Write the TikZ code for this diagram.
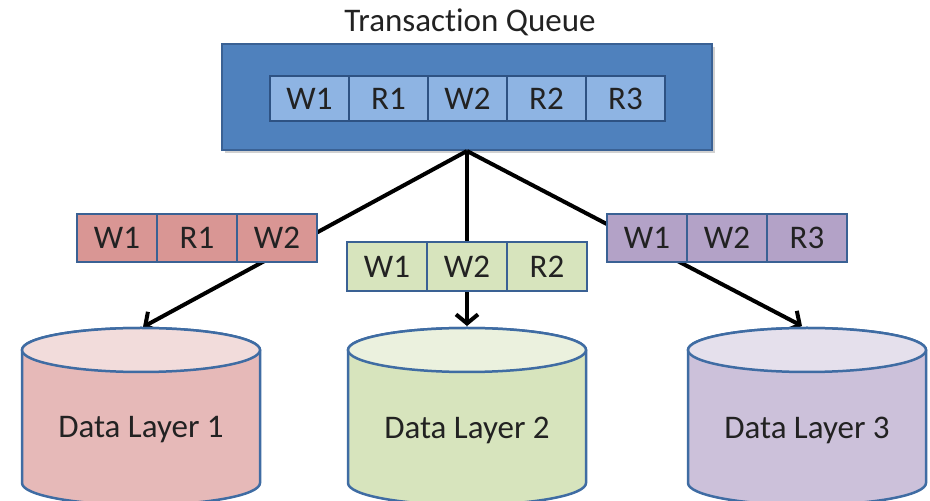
\documentclass[tikz,border=0pt]{standalone}
\usepackage{fontspec}
\setmainfont{Carlito}[Ligatures=NoCommon]
\usetikzlibrary{arrows.meta}
\definecolor{qfill}{HTML}{4F81BD}
\definecolor{qborder}{HTML}{3A6194}
\definecolor{cellblue}{HTML}{8EB4E3}
\definecolor{cellborder}{HTML}{2E5283}
\definecolor{redq}{HTML}{D99694}
\definecolor{greenq}{HTML}{D7E4BD}
\definecolor{purpleq}{HTML}{B3A2C7}
\definecolor{redside}{HTML}{E6B9B8}
\definecolor{redtop}{HTML}{F2DCDB}
\definecolor{greenside}{HTML}{D7E4BD}
\definecolor{greentop}{HTML}{EBF1DE}
\definecolor{purpleside}{HTML}{CCC1DA}
\definecolor{purpletop}{HTML}{E5E0EC}
\definecolor{cylborder}{HTML}{3F6CA3}
\definecolor{txt}{HTML}{222222}
\begin{document}
\begin{tikzpicture}[x=1pt,y=1pt,
  every node/.style={text=txt, font=\fontsize{33}{38}\selectfont},
  qcell/.style={draw=cellborder, line width=2pt, fill=cellblue, minimum width=79pt, minimum height=45pt, inner sep=0pt},
  scell/.style={draw=qborder, line width=2pt, minimum width=80pt, minimum height=48pt, inner sep=0pt},
  conn/.style={line width=4pt, -{Straight Barb[length=9pt,width=22pt,line width=4pt]}},
  cylline/.style={draw=cylborder, line width=2.5pt}
]
\useasboundingbox (0,0) rectangle (930,501);
\clip (0,0) rectangle (930,501);
\fill[white] (0,0) rectangle (930,501);

% title
\node (title) at (470,479) {Transaction Queue};

% big queue with faint shadow
\fill[black!18] (225,348) rectangle (715,454);
\node[draw=qborder, line width=2pt, fill=qfill, minimum width=490pt, minimum height=106pt, inner sep=0pt] (q) at (467,404) {};
\node[qcell] (qw1) at (309.5,402.5) {W1};
\node[qcell] (qr1) at (388.5,402.5) {R1};
\node[qcell] (qw2) at (467.5,402.5) {W2};
\node[qcell] (qr2) at (546.5,402.5) {R2};
\node[qcell] (qr3) at (625.5,402.5) {R3};

% arrow targets
\coordinate (t1) at (143,174);
\coordinate (t2) at (467,175);
\coordinate (t3) at (802,175);
\draw[conn] (q.south) -- (t1);
\draw[conn] (q.south) -- (t2);
\draw[conn] (q.south) -- (t3);

% left queue
\node[scell, fill=redq] (aw1) at (117,263) {W1};
\node[scell, fill=redq] (ar1) at (197,263) {R1};
\node[scell, fill=redq] (aw2) at (277,263) {W2};
% middle queue
\node[scell, fill=greenq, minimum height=49pt] (bw1) at (387,234.5) {W1};
\node[scell, fill=greenq, minimum height=49pt] (bw2) at (467,234.5) {W2};
\node[scell, fill=greenq, minimum height=49pt] (br2) at (547,234.5) {R2};
% right queue
\node[scell, fill=purpleq] (cw1) at (647,263) {W1};
\node[scell, fill=purpleq] (cw2) at (727,263) {W2};
\node[scell, fill=purpleq] (cr3) at (807,263) {R3};

% cylinders
\foreach \cx/\side/\top/\nm/\lab in {141/redside/redtop/d1/Data Layer 1, 467/greenside/greentop/d2/Data Layer 2, 807/purpleside/purpletop/d3/Data Layer 3}{
  \draw[cylline, fill=\side] (\cx-119,151) -- (\cx-119,18) arc (180:360:119 and 22) -- (\cx+119,151) arc (0:180:119 and 22) -- cycle;
  \draw[cylline, fill=\top] (\cx,151) ellipse (119 and 22);
  \node (\nm) at (\cx,71) {\lab};
}
\end{tikzpicture}
\end{document}
